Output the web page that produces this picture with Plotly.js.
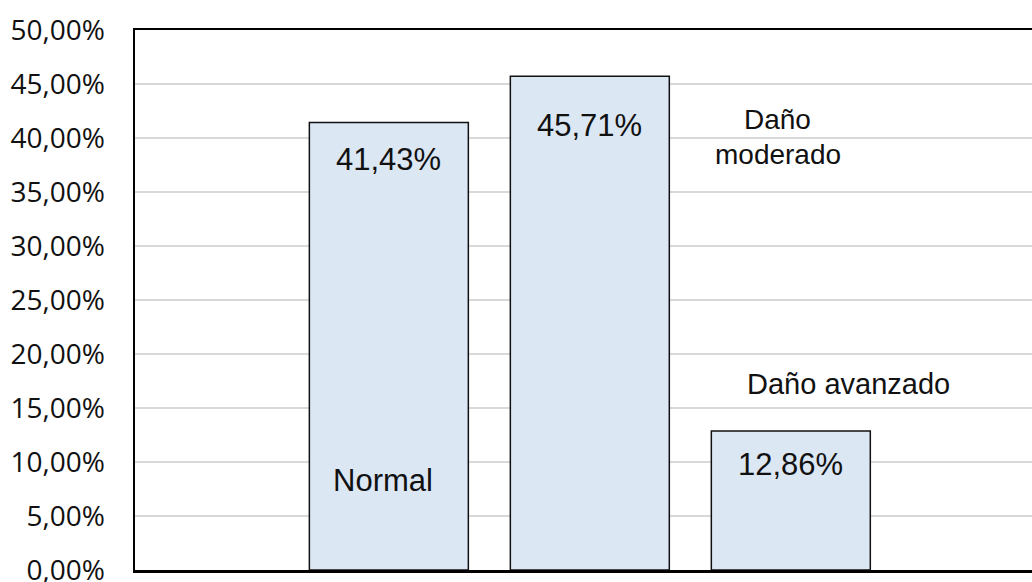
<!DOCTYPE html>
<html>
<head>
<meta charset="utf-8">
<script src="https://cdn.plot.ly/plotly-3.0.1.min.js"></script>
<style>
  html, body { margin: 0; padding: 0; background: #ffffff; overflow: hidden; }
  #chart { width: 1032px; height: 582px; }
</style>
</head>
<body>
<div id="chart"></div>
<script>
// Distribution of cases by damage level
const categories = ['Normal', 'Daño moderado', 'Daño avanzado'];
const shares = [41.43, 45.71, 12.86];
const tickValues = [0, 5, 10, 15, 20, 25, 30, 35, 40, 45, 50];
const tickLabels = ['0,00%', '5,00%', '10,00%', '15,00%', '20,00%', '25,00%',
                    '30,00%', '35,00%', '40,00%', '45,00%', '50,00%'];

// Format a share as Spanish-style percentage text
function pct(v) {
  return v.toFixed(2).replace('.', ',') + '%';
}

// Placement of the text drawn inside the plot
const valueShift = [-37, -49.5, -33];            // px below each bar top
const nameSpots = [                               // [x (category units), y (axis units)]
  [[-0.03, 8.33]],
  [[1.935, 41.67], [1.935, 38.5]],
  [[2.286, 17.22]]
];
const nameSize = [31, 28, 29];

const annotations = [];
shares.forEach((v, i) => {
  annotations.push({
    x: i, y: v, xref: 'x', yref: 'y',
    text: pct(v), showarrow: false,
    xanchor: 'center', yanchor: 'middle',
    yshift: valueShift[i],
    font: { family: 'Liberation Sans, Arial, sans-serif', size: 31, color: '#111111' }
  });
});
categories.forEach((name, i) => {
  const spots = nameSpots[i];
  const parts = spots.length > 1 ? name.split(' ') : [name];
  parts.forEach((part, k) => {
    annotations.push({
      x: spots[k][0], y: spots[k][1], xref: 'x', yref: 'y',
      text: part, showarrow: false,
      xanchor: 'center', yanchor: 'middle',
      font: { family: 'Liberation Sans, Arial, sans-serif', size: nameSize[i], color: '#111111' }
    });
  });
});

const trace = {
  type: 'bar',
  x: categories,
  y: shares,
  width: 0.791,
  marker: {
    color: '#dce7f4',
    line: { color: '#111111', width: 1.5 }
  },
  hoverinfo: 'skip'
};

const layout = {
  width: 1032,
  height: 582,
  margin: { l: 135, r: 0, t: 30, b: 12, pad: 0 },
  paper_bgcolor: '#ffffff',
  plot_bgcolor: '#ffffff',
  showlegend: false,
  xaxis: {
    type: 'category',
    range: [-1.263, 3.2],
    showticklabels: false,
    ticks: '',
    showgrid: false,
    zeroline: false,
    showline: true,
    mirror: true,
    linecolor: '#000000',
    linewidth: 2.5
  },
  yaxis: {
    range: [0, 50],
    tickmode: 'array',
    tickvals: tickValues,
    ticktext: tickLabels,
    ticks: '',
    ticklabelstandoff: 22,
    ticklabeloverflow: 'allow',
    tickfont: { family: 'Open Sans, Noto Sans, sans-serif', size: 28, color: '#111111' },
    showgrid: true,
    gridcolor: '#d9d9d9',
    gridwidth: 1.5,
    zeroline: false,
    showline: true,
    mirror: false,
    linecolor: '#000000',
    linewidth: 2.5
  },
  annotations: annotations
};

Plotly.newPlot('chart', [trace], layout, { staticPlot: true, displayModeBar: false });
</script>
</body>
</html>
